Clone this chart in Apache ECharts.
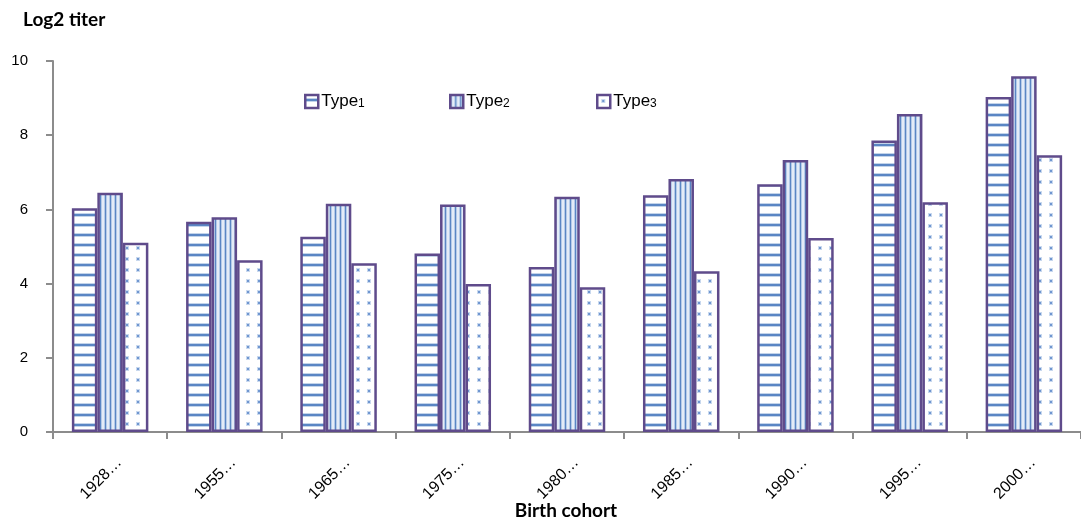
<!DOCTYPE html>
<html>
<head>
<meta charset="utf-8">
<script src="https://cdn.jsdelivr.net/npm/echarts@6/dist/echarts.min.js"></script>
<style>html,body{margin:0;padding:0;background:#fff}#c{width:1081px;height:520px}</style>
</head>
<body>
<div id="c"></div>
<script>
var categories = ['1928…','1955…','1965…','1975…','1980…','1985…','1990…','1995…','2000…'];
var seriesNames = ['Type1','Type2','Type3'];
var type1 = [6.03, 5.67, 5.26, 4.81, 4.45, 6.38, 6.68, 7.86, 9.03];
var type2 = [6.45, 5.79, 6.15, 6.13, 6.34, 6.82, 7.33, 8.57, 9.59];
var type3 = [5.10, 4.63, 4.55, 3.99, 3.90, 4.33, 5.23, 6.19, 7.46];
var yTicks = [0, 2, 4, 6, 8, 10];

function makeCanvas(w, h, draw) {
  var c = document.createElement('canvas');
  c.width = w; c.height = h;
  var ctx = c.getContext('2d');
  ctx.fillStyle = '#ffffff'; ctx.fillRect(0, 0, w, h);
  draw(ctx);
  return c;
}
var hStripe = makeCanvas(10, 10, function (ctx) {
  ctx.fillStyle = '#c3d4ea'; ctx.fillRect(0, 3, 10, 1); ctx.fillRect(0, 6, 10, 1);
  ctx.fillStyle = '#5a86c4'; ctx.fillRect(0, 4, 10, 2);
});
var vStripe = makeCanvas(5, 10, function (ctx) {
  ctx.fillStyle = '#5a86c4'; ctx.fillRect(0, 0, 1, 10);
  ctx.fillStyle = '#b5cbe8'; ctx.fillRect(1, 0, 1, 10); ctx.fillRect(4, 0, 1, 10);
  ctx.fillStyle = '#e4ecf7'; ctx.fillRect(2, 0, 2, 10);
});
var dots = makeCanvas(11, 11, function (ctx) {
  ctx.fillStyle = '#c8d8ee'; ctx.fillRect(4, 4, 4, 4);
  ctx.fillStyle = '#6f96d0'; ctx.fillRect(5, 5, 2, 2);
});
var patterns = [hStripe, vStripe, dots];
var dataArr = [type1, type2, type3];

var series = seriesNames.map(function (n, i) {
  return {
    name: n, type: 'bar', data: dataArr[i],
    barWidth: 25.5, barGap: '0%',
    itemStyle: { color: { image: patterns[i], repeat: 'repeat' }, borderColor: '#5f4b8b', borderWidth: 2.5 },
    emphasis: { disabled: true }
  };
});
var legendLefts = [299, 444, 591];
var legends = seriesNames.map(function (n, i) {
  return {
    data: [n], left: legendLefts[i], top: 88, itemWidth: 13, itemHeight: 13, itemGap: 0,
    icon: 'rect', selectedMode: false,
    itemStyle: { borderColor: '#5f4b8b', borderWidth: 2.5 },
    formatter: function (name) { return 'Type{s|' + name.slice(4) + '}'; },
    textStyle: { fontFamily: 'Liberation Sans', fontSize: 17, color: '#000', padding: [0,0,0,-2],
      rich: { s: { fontSize: 12, fontFamily: 'Liberation Sans', color: '#000', verticalAlign: 'bottom', padding: [2,0,0,0] } } }
  };
});

var chart = echarts.init(document.getElementById('c'), null, { renderer: 'canvas' });
chart.setOption({
  animation: false,
  backgroundColor: '#fff',
  title: [
    { text: 'Log2 titer', left: 23, top: 10, padding: 0, textStyle: { fontFamily: 'Lato', fontWeight: 'bold', fontSize: 19, color: '#000' } },
    { text: 'Birth cohort', left: 566, top: 501, padding: 0, textAlign: 'center', textStyle: { fontFamily: 'Lato', fontWeight: 'bold', fontSize: 19, color: '#000' } }
  ],
  legend: legends,
  grid: { left: 53, right: -6, top: 61, bottom: 88, containLabel: false },
  xAxis: {
    type: 'category', data: categories,
    axisLine: { lineStyle: { color: '#8c8c8c', width: 2 } },
    axisTick: { show: true, length: 7, lineStyle: { color: '#8c8c8c', width: 2 } },
    axisLabel: { rotate: 45, margin: 19, verticalAlign: 'top', padding: [5, 0, 0, 0], fontFamily: 'Liberation Sans', fontSize: 16, color: '#000' }
  },
  yAxis: {
    type: 'value', min: 0, max: 10, interval: 2,
    axisLine: { show: true, lineStyle: { color: '#8c8c8c', width: 2 } },
    axisTick: { show: true, length: 7, lineStyle: { color: '#8c8c8c', width: 2 } },
    splitLine: { show: false },
    axisLabel: { margin: 25, fontFamily: 'Liberation Sans', fontSize: 15, color: '#000',
      formatter: function (v) { return yTicks.indexOf(v) >= 0 ? String(v) : ''; } }
  },
  series: series
});
</script>
</body>
</html>
